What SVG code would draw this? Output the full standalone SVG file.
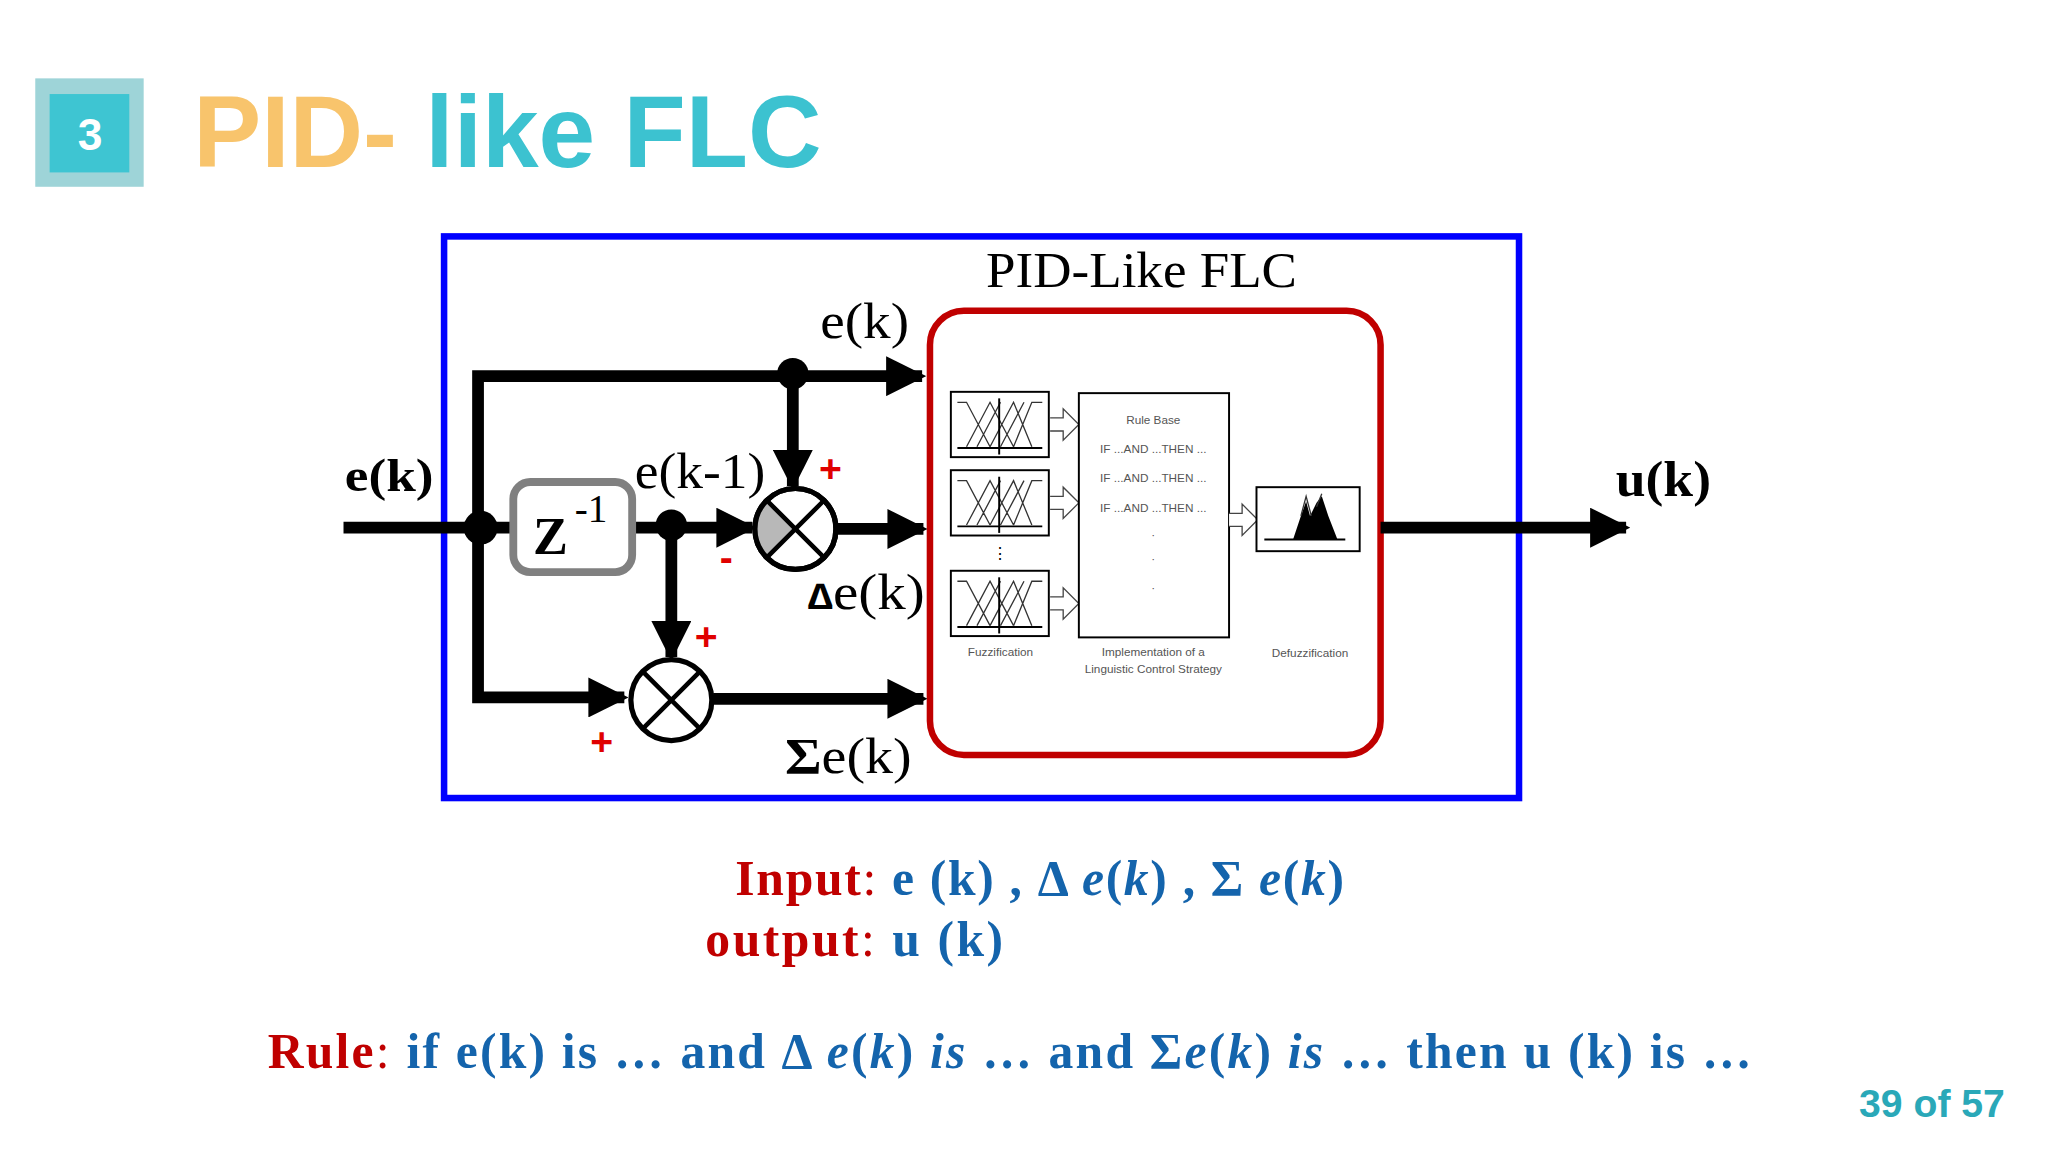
<svg xmlns="http://www.w3.org/2000/svg" width="2048" height="1152" viewBox="0 0 2048 1152">
<defs>
<style>
.w{stroke:#000;stroke-width:9;fill:none}
.ser{font-family:"Liberation Serif",serif}
.lbl{font-family:"Liberation Serif",serif;font-size:38px;fill:#000}
.pm{font-family:"Liberation Sans",sans-serif;font-size:30px;fill:#e00000;font-weight:bold}
.tiny{font-family:"Liberation Sans",sans-serif;font-size:9px;fill:#555}
.r{fill:#c00000}.b{fill:#1464ac}
.mf{stroke:#333;stroke-width:1;fill:none}
</style>
<marker id="ah" viewBox="0 0 10 10" refX="9" refY="5" markerWidth="3.4" markerHeight="3.4" orient="auto" markerUnits="strokeWidth"><path d="M0,0L10,5L0,10z" fill="#000"/></marker>
<g id="mfs">
<rect x="0" y="0" width="75" height="50" fill="#fff" stroke="#000" stroke-width="1.5"/>
<path class="mf" d="M5,8 H12 L30,42 M12,42 L30,8 L48,42 M30,42 L48,8 L62,42 M48,42 L62,8 H70 M20,42 L38,8 M38,42 L56,8"/>
<line x1="5" y1="43" x2="70" y2="43" stroke="#000" stroke-width="1.5"/>
<line x1="37" y1="5" x2="37" y2="48" stroke="#000" stroke-width="1.5"/>
</g>
<path id="oa" d="M0,-5 H10 V-12 L22,0 L10,12 V5 H0" fill="#fff" stroke="#444" stroke-width="1"/>
</defs>
<rect width="2048" height="1152" fill="#fff"/>
<g transform="scale(1.30612)">
<g id="title">
<rect x="27" y="60" width="83" height="83" fill="#9ed4d8"/>
<rect x="38" y="72" width="61" height="60" fill="#3ec5d2"/>
<text x="69" y="115" text-anchor="middle" font-family="Liberation Sans,sans-serif" font-size="34" font-weight="bold" fill="#fff">3</text>
<text x="148" y="128" font-family="Liberation Sans,sans-serif" font-size="78" font-weight="bold"><tspan fill="#f8c46c">PID-</tspan><tspan fill="#3cc2d0"> like FLC</tspan></text>
</g>
<g id="frame"><rect x="340" y="181" width="823" height="430" fill="none" stroke="#0000ff" stroke-width="5"/>
<text x="755" y="220" class="ser" font-size="38" textLength="238" lengthAdjust="spacingAndGlyphs">PID-Like FLC</text></g>
<g id="flc">
<rect x="712" y="238" width="345" height="340" rx="26" fill="none" stroke="#c00000" stroke-width="5"/>
<use href="#mfs" x="728" y="300"/><use href="#mfs" x="728" y="360"/><use href="#mfs" x="728" y="437"/>
<use href="#oa" x="804" y="325"/><use href="#oa" x="804" y="385"/><use href="#oa" x="804" y="462"/>
<text x="766" y="428" text-anchor="middle" font-size="12" font-family="Liberation Sans,sans-serif">⋮</text>
<rect x="826" y="301" width="115" height="187" fill="#fff" stroke="#000" stroke-width="1.5"/>
<text x="883" y="325" text-anchor="middle" class="tiny">Rule Base</text>
<text x="883" y="347" text-anchor="middle" class="tiny">IF ...AND ...THEN ...</text>
<text x="883" y="369" text-anchor="middle" class="tiny">IF ...AND ...THEN ...</text>
<text x="883" y="392" text-anchor="middle" class="tiny">IF ...AND ...THEN ...</text>
<text x="883" y="413" text-anchor="middle" class="tiny">·</text><text x="883" y="431" text-anchor="middle" class="tiny">·</text><text x="883" y="453" text-anchor="middle" class="tiny">·</text>
<use href="#oa" x="941" y="398"/>
<rect x="962" y="373" width="79" height="49" fill="#fff" stroke="#000" stroke-width="1.5"/>
<path d="M990,413 L996,395 L1000,384 L1003,395 L1008,385 L1012,380 L1017,395 L1024,413 Z" fill="#000"/>
<path d="M996,395 L1000,380 L1004,395 M1008,388 L1012,378" stroke="#333" fill="none"/>
<line x1="968" y1="413" x2="1030" y2="413" stroke="#000" stroke-width="1.5"/>
<text x="766" y="502" text-anchor="middle" class="tiny">Fuzzification</text>
<text x="883" y="502" text-anchor="middle" class="tiny">Implementation of a</text>
<text x="883" y="515" text-anchor="middle" class="tiny">Linguistic Control Strategy</text>
<text x="1003" y="503" text-anchor="middle" class="tiny">Defuzzification</text>
</g>
<g id="connectors">
<line class="w" x1="263" y1="404" x2="392" y2="404"/>
<path class="w" d="M366,404 V288 H706" marker-end="url(#ah)"/>
<path class="w" d="M366,404 V534 H478" marker-end="url(#ah)"/>
<path class="w" d="M607,288 V372" marker-end="url(#ah)"/>
<path class="w" d="M485,404 H576" marker-end="url(#ah)"/>
<path class="w" d="M514,404 V503" marker-end="url(#ah)"/>
<path class="w" d="M640,405 H707" marker-end="url(#ah)"/>
<path class="w" d="M546,535 H707" marker-end="url(#ah)"/>
<path class="w" d="M1057,404 H1245" marker-end="url(#ah)"/>
</g>
<g id="dots"><circle cx="368" cy="404" r="13"/><circle cx="607" cy="286" r="12"/><circle cx="514" cy="402" r="12"/></g>
<g id="z"><rect x="393" y="369" width="91" height="69" rx="13" fill="#fff" stroke="#808080" stroke-width="6"/>
<text x="408" y="424" class="ser" font-size="40" font-weight="bold">Z</text><text x="440" y="400" class="ser" font-size="30">-1</text></g>
<g id="sum1"><circle cx="609" cy="405" r="31" fill="#fff" stroke="#000" stroke-width="4"/>
<path d="M609,405 L587,383 A31,31 0 0 0 587,427 Z" fill="#b8b8b8"/>
<path d="M587,383 L631,427 M631,383 L587,427" stroke="#000" stroke-width="3.5"/>
<circle cx="609" cy="405" r="31" fill="none" stroke="#000" stroke-width="4"/></g>
<g id="sum2"><circle cx="514" cy="536" r="31" fill="#fff" stroke="#000" stroke-width="4"/>
<path d="M492,514 L536,558 M536,514 L492,558" stroke="#000" stroke-width="3.5"/></g>
<g id="labels">
<text x="264" y="376" class="ser" font-size="36" font-weight="bold" textLength="68" lengthAdjust="spacingAndGlyphs">e(k)</text>
<text x="628" y="259" class="lbl" textLength="68" lengthAdjust="spacingAndGlyphs">e(k)</text>
<text x="486" y="374" class="lbl" textLength="100" lengthAdjust="spacingAndGlyphs">e(k-1)</text>
<text x="618" y="466" class="lbl" textLength="90" lengthAdjust="spacingAndGlyphs"><tspan font-weight="bold" font-family="Liberation Sans,sans-serif" font-size="28">∆</tspan>e(k)</text>
<text x="601" y="592" class="lbl" textLength="97" lengthAdjust="spacingAndGlyphs"><tspan font-weight="bold">Σ</tspan>e(k)</text>
<text x="1237" y="380" class="ser" font-size="38" font-weight="bold" textLength="73" lengthAdjust="spacingAndGlyphs">u(k)</text>
<text x="627" y="369" class="pm">+</text><text x="551" y="437" class="pm">-</text>
<text x="532" y="498" class="pm">+</text><text x="452" y="578" class="pm">+</text>
</g>
<g id="text" class="ser" font-size="38" font-weight="bold">
<text x="563" y="685" textLength="466" lengthAdjust="spacing"><tspan class="r">Input</tspan><tspan class="r" font-weight="normal">: </tspan><tspan class="b">e (k) , Δ <tspan font-style="italic">e</tspan>(<tspan font-style="italic">k</tspan>) , Σ <tspan font-style="italic">e</tspan>(<tspan font-style="italic">k</tspan>)</tspan></text>
<text x="540" y="732" textLength="228" lengthAdjust="spacing"><tspan class="r">output</tspan><tspan class="r" font-weight="normal">: </tspan><tspan class="b">u (k)</tspan></text>
<text x="205" y="818" textLength="1136" lengthAdjust="spacing"><tspan class="r">Rule</tspan><tspan class="r" font-weight="normal">: </tspan><tspan class="b">if e(k) is  … and Δ <tspan font-style="italic">e</tspan>(<tspan font-style="italic">k</tspan>) <tspan font-style="italic">is</tspan>  … and Σ<tspan font-style="italic">e</tspan>(<tspan font-style="italic">k</tspan>) <tspan font-style="italic">is</tspan>  …  then u (k) is  …</tspan></text>
</g>
<text x="1535" y="855" text-anchor="end" font-family="Liberation Sans,sans-serif" font-size="30" font-weight="bold" fill="#2aa8b8">39 of 57</text>
</g>
</svg>
